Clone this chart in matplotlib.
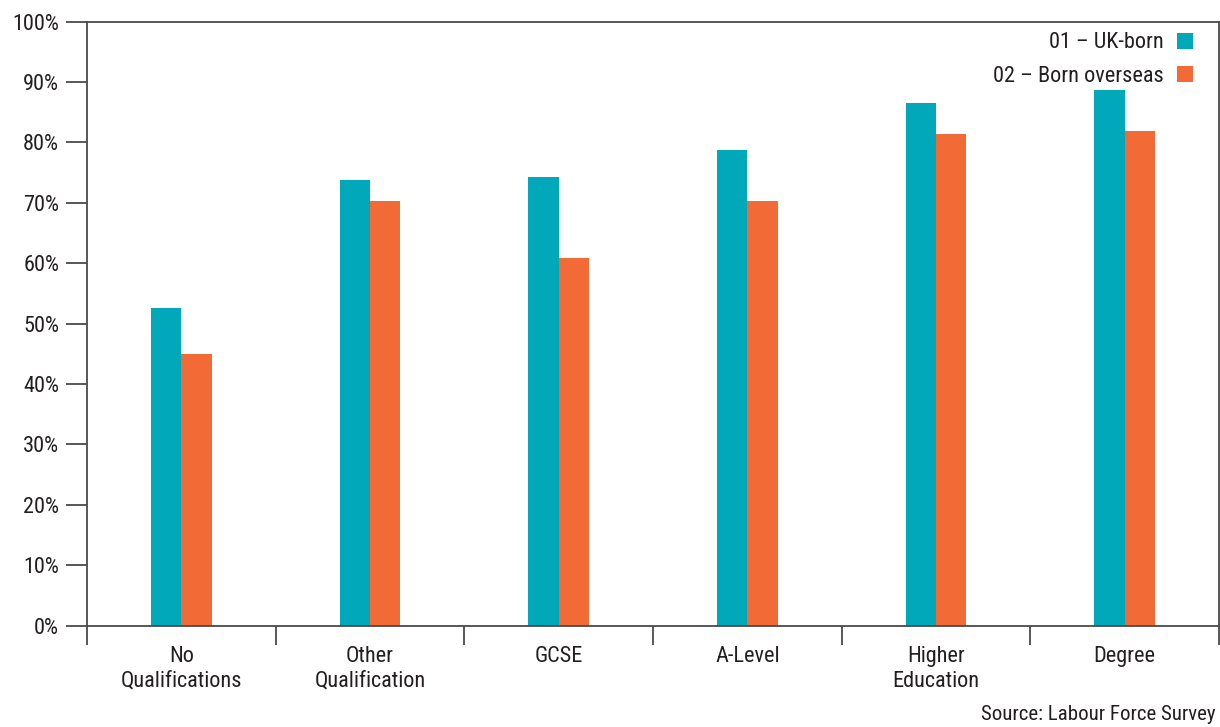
import matplotlib
matplotlib.use("Agg")
import matplotlib.pyplot as plt
import numpy as np
from matplotlib.patches import Patch

categories = ["No\nQualifications", "Other\nQualification", "GCSE", "A-Level", "Higher\nEducation", "Degree"]
uk_born = [52.6, 73.8, 74.3, 78.8, 86.5, 88.7]
born_overseas = [45.0, 70.3, 60.9, 70.3, 81.4, 81.9]
series_names = ["01 – UK-born", "02 – Born overseas"]
yticks = [0, 10, 20, 30, 40, 50, 60, 70, 80, 90, 100]
source = "Source: Labour Force Survey"

TEAL = "#00A8BA"
ORANGE = "#F26B36"
TXT = "#231F20"
SPINE = "#4a4a4a"
FONT = ["Roboto Condensed", "Archivo Narrow", "PT Sans Narrow", "Open Sans Condensed", "DejaVu Sans"]
plt.rcParams["font.family"] = FONT

fig = plt.figure(figsize=(12.2, 7.27), dpi=100)
ax = fig.add_axes([87/1220, 1-625.5/727, (1219-87)/1220, (625.5-21.7)/727])

x = np.arange(len(categories))
w = 0.16
ax.bar(x - w/2, uk_born, width=w, color=TEAL, label=series_names[0])
ax.bar(x + w/2, born_overseas, width=w, color=ORANGE, label=series_names[1])

ax.set_xlim(-0.5, len(categories) - 0.5)
ax.set_ylim(0, 100)
ax.set_yticks(yticks)
ax.set_yticklabels([f"{v}%" for v in yticks], fontsize=16, color=TXT)
ax.tick_params(axis="y", length=15, width=1.3, color=SPINE, pad=5)

ax.set_xticks(x)
ax.set_xticklabels(categories, fontsize=16, color=TXT, linespacing=1.22)
ax.tick_params(axis="x", length=0, pad=15)
ax.set_xticks(np.arange(-0.5, len(categories), 1.0), minor=True)
ax.tick_params(axis="x", which="minor", length=14, width=1.3, color=SPINE)

for s in ax.spines.values():
    s.set_color(SPINE)
    s.set_linewidth(1.3)

handles = [Patch(facecolor=TEAL, edgecolor="none"), Patch(facecolor=ORANGE, edgecolor="none")]
leg = ax.legend(handles, series_names, loc="upper right",
                bbox_to_anchor=(1193/1220, 1-32.5/727), bbox_transform=fig.transFigure,
                frameon=False, markerfirst=False, fontsize=16, handlelength=0.72,
                handleheight=0.72, handletextpad=0.6, labelspacing=0.55,
                borderaxespad=0, borderpad=0)
for t in leg.get_texts():
    t.set_color(TXT)

fig.text(1216/1220, 1-715/727, source, ha="right", va="center", fontsize=15, color=TXT)

fig.savefig("out.png", dpi=100)
